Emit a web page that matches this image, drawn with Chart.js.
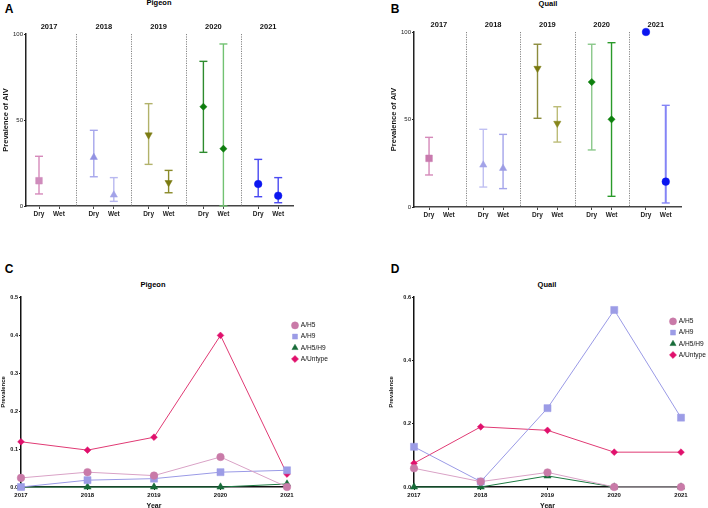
<!DOCTYPE html>
<html><head><meta charset="utf-8">
<script src="https://cdn.jsdelivr.net/npm/chart.js@4/dist/chart.umd.min.js"></script>
<style>
html,body{margin:0;padding:0;background:#fff;width:708px;height:508px;overflow:hidden;font-family:"Liberation Sans",Arial,sans-serif}
canvas{position:absolute}
.t{position:absolute;font-weight:bold;color:#000;white-space:nowrap;transform:translate(-50%,-50%);line-height:1}
</style></head><body>
<div class="t" style="left:9px;top:9px;font-size:12px">A</div>
<div class="t" style="left:159px;top:3px;font-size:7.5px">Pigeon</div>
<div class="t" style="left:395px;top:9px;font-size:12px">B</div>
<div class="t" style="left:548px;top:4px;font-size:7.5px">Quail</div>
<div class="t" style="left:9px;top:269px;font-size:12px">C</div>
<div class="t" style="left:153px;top:285px;font-size:7.5px">Pigeon</div>
<div class="t" style="left:395px;top:269px;font-size:12px">D</div>
<div class="t" style="left:547px;top:285px;font-size:7.5px">Quail</div>
<canvas id="ca" style="left:0;top:0" width="354" height="230"></canvas>
<canvas id="cb" style="left:354px;top:0" width="354" height="230"></canvas>
<canvas id="cc" style="left:0;top:250px" width="354" height="260"></canvas>
<canvas id="cd" style="left:354px;top:250px" width="354" height="260"></canvas>
<script>
// ---------- DATA ----------
const years = ['2017', '2018', '2019', '2020', '2021'];
const seasons = ['Dry', 'Wet'];
const prevTicks = [0, 50, 100];

// Panel A: Pigeon prevalence of AIV (%) with 95% CI
const pigeonDry     = [14.7, 28.3, 41.3, 57.7, 12.8];
const pigeonDryLow  = [7.0, 17.0, 24.2, 31.2, 5.4];
const pigeonDryHigh = [28.9, 44.0, 59.5, 84.1, 27.1];
const pigeonWet     = [null, 6.4, 13.6, 33.3, 6.0];
const pigeonWetLow  = [null, 2.7, 7.7, 0, 1.9];
const pigeonWetHigh = [null, 16.5, 20.7, 94.2, 16.5];

// Panel B: Quail prevalence of AIV (%) with 95% CI
const quailDry     = [27.8, 24.0, 79.2, 71.4, 100];
const quailDryLow  = [18.3, 11.4, 50.7, 32.6, null];
const quailDryHigh = [39.8, 44.4, 93.0, 93.0, null];
const quailWet     = [null, 22.1, 47.8, 50.1, 14.5];
const quailWetLow  = [null, 10.5, 37.1, 6.1, 2.3];
const quailWetHigh = [null, 41.5, 57.3, 93.9, 58.1];

// Panels C/D: subtype prevalence by year
const subtypes = ['A/H5', 'A/H9', 'A/H5/H9', 'A/Untype'];
const pigeonH5     = [0.024, 0.039, 0.030, 0.079, 0];
const pigeonH9     = [0, 0.018, 0.022, 0.039, 0.044];
const pigeonH5H9   = [0, 0, 0, 0, 0.008];
const pigeonUntype = [0.119, 0.097, 0.131, 0.399, 0.034];
const quailH5      = [0.059, 0.017, 0.046, 0, 0];
const quailH9      = [0.127, 0.017, 0.249, 0.559, 0.219];
const quailH5H9    = [0, 0, 0.035, 0, 0];
const quailUntype  = [0.075, 0.190, 0.179, 0.110, 0.110];

// ---------- STYLE ----------
Chart.defaults.font.family = '"Liberation Sans", Arial, sans-serif';
Chart.defaults.color = '#111';
const YEAR_STEP = 2.74;
const pos = (i, s) => i * YEAR_STEP + s;
const shapes = [
  {style: 'rect', r: 4.7, rot: 0},
  {style: 'triangle', r: 4.2, rot: 0},
  {style: 'triangle', r: 4.2, rot: 180},
  {style: 'rectRot', r: 3.6, rot: 0},
  {style: 'circle', r: 3.8, rot: 0}
];
const styleA = {
  dryPt:  ['#cf8cbc', '#9292e2', '#7c7c14', '#0d7d0d', '#0b16f0'],
  dryBar: ['#d68abb', '#a6a6ec', '#b2b26a', '#2e8b2e', '#4848f2'],
  wetPt:  [null, '#a2a2e8', '#7a7a10', '#0d7d0d', '#0b16f0'],
  wetBar: [null, '#b8b8f0', '#8a8a28', '#72c272', '#4a4af2']
};
const styleB = {
  dryPt:  ['#c97aae', '#a3a3e8', '#78780e', '#0d800d', '#0b16f0'],
  dryBar: ['#d589b9', '#c0c0f2', '#8c8c3c', '#8ac88a', '#0b16f0'],
  wetPt:  [null, '#9c9ce4', '#86861c', '#0d800d', '#0b16f0'],
  wetBar: [null, '#a4a4ea', '#bcbc78', '#2a9a2a', '#8484f6']
};

function buildErrDatasets(dry, dryLow, dryHigh, wet, wetLow, wetHigh, st) {
  const out = [];
  const series = [[dry, dryLow, dryHigh, st.dryPt, st.dryBar], [wet, wetLow, wetHigh, st.wetPt, st.wetBar]];
  years.forEach((y, i) => {
    series.forEach(([v, lo, hi, ptC, barC], s) => {
      if (v[i] === null) return;
      const x = pos(i, s);
      if (lo[i] !== null) {
        out.push({
          type: 'line', order: 1, clip: false,
          data: [{x, y: lo[i]}, {x, y: hi[i]}],
          borderColor: barC[i], borderWidth: (i === 4 && s === 1 && st === styleB) ? 2 : 1.4,
          pointStyle: 'line', pointRadius: 4, pointBorderColor: barC[i], pointBorderWidth: 1.4,
          pointHoverRadius: 4, fill: false
        });
      }
      out.push({
        type: 'scatter', order: 0, clip: false,
        data: [{x, y: v[i]}],
        pointStyle: shapes[i].style, pointRadius: shapes[i].r, pointRotation: shapes[i].rot,
        backgroundColor: ptC[i], borderColor: ptC[i], borderWidth: 0.5
      });
    });
  });
  return out;
}

const sepPlugin = {
  id: 'sep',
  beforeDatasetsDraw(chart) {
    const {ctx, chartArea, scales: {x}} = chart;
    ctx.save();
    ctx.strokeStyle = '#777'; ctx.lineWidth = 0.9; ctx.setLineDash([1.2, 1.2]);
    for (let i = 0; i < years.length - 1; i++) {
      const px = Math.round(x.getPixelForValue(pos(i, 1.87))) + 0.5;
      ctx.beginPath(); ctx.moveTo(px, chartArea.top); ctx.lineTo(px, chartArea.bottom); ctx.stroke();
    }
    ctx.restore();
  }
};

function errChart(id, datasets, xmin, xmax, padL, padR, topH, botH) {
  const xTicks = []; const xLabels = [];
  years.forEach((y, i) => seasons.forEach((s, k) => { xTicks.push(pos(i, k)); xLabels.push(s); }));
  return new Chart(document.getElementById(id), {
    type: 'scatter',
    data: {datasets},
    plugins: [sepPlugin],
    options: {
      responsive: false, animation: false, devicePixelRatio: 1, events: [],
      layout: {padding: {left: padL, right: padR, top: 0, bottom: 0}},
      plugins: {legend: {display: false}, tooltip: {enabled: false}},
      scales: {
        x: {
          type: 'linear', position: 'bottom', min: xmin, max: xmax,
          afterBuildTicks: s => { s.ticks = xTicks.map(v => ({value: v})); },
          afterFit: s => { s.height = botH; },
          ticks: {autoSkip: false, maxRotation: 0, padding: 1, font: {size: 6.5, weight: 'bold'}, color: '#222',
                  callback: (v, i) => xLabels[i]},
          grid: {drawOnChartArea: false, drawTicks: true, tickLength: 3, color: '#444', lineWidth: 1},
          border: {display: true, color: '#444', width: 1.5}
        },
        x2: {
          type: 'linear', position: 'top', min: xmin, max: xmax,
          afterBuildTicks: s => { s.ticks = years.map((y, i) => ({value: pos(i, 0.5)})); },
          afterFit: s => { s.height = topH; },
          ticks: {autoSkip: false, maxRotation: 0, padding: 3, font: {size: 7.5, weight: 'bold'}, color: '#111',
                  callback: (v, i) => years[i]},
          grid: {display: false, drawTicks: false},
          border: {display: false}
        },
        y: {
          min: 0, max: 100,
          afterBuildTicks: s => { s.ticks = prevTicks.map(v => ({value: v})); },
          afterFit: s => { s.width = 26; },
          ticks: {padding: 1, font: {size: 6}, color: '#222'},
          grid: {drawOnChartArea: false, tickLength: 2, color: '#222'},
          border: {display: true, color: '#222', width: 1.5},
          title: {display: true, text: 'Prevalence of AIV', font: {size: 7.5, weight: 'bold'}, color: '#111', padding: 1}
        }
      }
    }
  });
}

errChart('ca', buildErrDatasets(pigeonDry, pigeonDryLow, pigeonDryHigh, pigeonWet, pigeonWetLow, pigeonWetHigh, styleA),
  -0.65, 12.7, 0, 61, 34, 24);
errChart('cb', buildErrDatasets(quailDry, quailDryLow, quailDryHigh, quailWet, quailWetLow, quailWetHigh, styleB),
  -0.76, 12.73, 34, 27, 32, 23);

// ---------- C / D ----------
const lineStyles = [
  {line: '#d9a2c6', pt: '#c97aa8', style: 'circle', r: 3.8},
  {line: '#9a9ae6', pt: '#9c9ce6', style: 'rect', r: 5},
  {line: '#1d7a42', pt: '#176b38', style: 'triangle', r: 4.2},
  {line: '#e03a74', pt: '#e0106c', style: 'rectRot', r: 3.4}
];

function legendFix(w, markerX, firstCenterY) {
  return {
    id: 'legendFix',
    beforeInit(chart) {
      const lg = chart.legend; const f = lg.fit;
      lg.fit = function () { f.call(this); this.width = w; };
    },
    afterLayout(chart) {
      const lg = chart.legend; const p = lg.options.labels.padding;
      lg.left = markerX - p - 2.5;
      lg.top = firstCenterY - p - 3.9;
    }
  };
}

function lineChart(id, series, ymax, step, padL, yW, legW, markerX, legY) {
  const datasets = series.map((d, k) => ({
    label: subtypes[k], data: d, clip: false, tension: 0,
    borderColor: lineStyles[k].line, borderWidth: 1,
    pointStyle: lineStyles[k].style, pointRadius: lineStyles[k].r,
    pointBackgroundColor: lineStyles[k].pt, pointBorderColor: lineStyles[k].pt, pointBorderWidth: 0.5,
    backgroundColor: lineStyles[k].pt
  }));
  return new Chart(document.getElementById(id), {
    type: 'line',
    data: {labels: years, datasets},
    plugins: [legendFix(legW, markerX, legY)],
    options: {
      responsive: false, animation: false, devicePixelRatio: 1, events: [],
      layout: {padding: {left: padL, right: 0, top: 47, bottom: 0}},
      plugins: {
        tooltip: {enabled: false},
        legend: {position: 'right', align: 'start',
          labels: {usePointStyle: true, boxWidth: 5, boxHeight: 5, padding: 4.6, font: {size: 6.6}, color: '#111'}}
      },
      scales: {
        x: {
          offset: false,
          afterFit: s => { s.height = 23; },
          ticks: {autoSkip: false, maxRotation: 0, padding: 2, font: {size: 6, weight: 'bold'}, color: '#111'},
          grid: {drawOnChartArea: false, tickLength: 3, color: '#222'},
          border: {display: true, color: '#111', width: 1.5},
          title: {display: true, text: 'Year', font: {size: 7, weight: 'bold'}, color: '#111', padding: 0}
        },
        y: {
          min: 0, max: ymax,
          afterFit: s => { s.width = yW; },
          ticks: {stepSize: step, padding: 1, font: {size: 5.5, weight: 'bold'}, color: '#111',
                  callback: v => Number(v).toFixed(1)},
          grid: {drawOnChartArea: false, tickLength: 2, color: '#111'},
          border: {display: true, color: '#111', width: 1.5},
          title: {display: true, text: 'Prevalence', font: {size: 6, weight: 'bold'}, color: '#111', padding: 0}
        }
      }
    }
  });
}

lineChart('cc', [pigeonH5, pigeonH9, pigeonH5H9, pigeonUntype], 0.5, 0.1, 0, 21, 67, 295, 76);
lineChart('cd', [quailH5, quailH9, quailH5H9, quailUntype], 0.6, 0.2, 34, 26, 27, 319, 72);
</script>
</body></html>
